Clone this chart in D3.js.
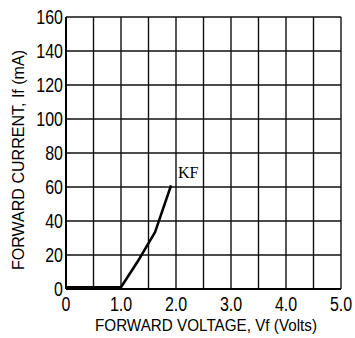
<!DOCTYPE html>
<html>
<head>
<meta charset="utf-8">
<script src="https://cdn.jsdelivr.net/npm/d3@7"></script>
<style>
body { margin: 0; background: #fff; }
.tick-lbl { font-family: "Liberation Sans", Arial, sans-serif; font-size: 19.5px; fill: #000; }
.title { font-family: "Liberation Sans", Arial, sans-serif; font-size: 17px; fill: #000; }
</style>
</head>
<body>
<div class="container"></div>
<script>
const W = 355, H = 338;
const LEFT = 66, RIGHT = 341, TOP = 17, BOTTOM = 289;
const NARROW = 0.82;

// curve KF
const voltage = [0, 1.0, 1.3, 1.62, 1.91];
const current = [1, 1, 16, 33.5, 61];
const xTicks = [0, 1, 2, 3, 4, 5];
const xTickLabels = ["0", "1.0", "2.0", "3.0", "4.0", "5.0"];
const yTicks = [0, 20, 40, 60, 80, 100, 120, 140, 160];
const xGrid = [0, 0.5, 1, 1.5, 2, 2.5, 3, 3.5, 4, 4.5, 5];

var svg = d3.select(".container").append("svg")
    .attr("width", W)
    .attr("height", H);

var x = d3.scaleLinear().domain([0, 5]).range([LEFT, RIGHT]);
var y = d3.scaleLinear().domain([0, 160]).range([BOTTOM, TOP]);

var g = svg.append("g");

g.selectAll(".vg").data(xGrid).enter().append("line")
    .attr("x1", d => x(d)).attr("x2", d => x(d))
    .attr("y1", TOP).attr("y2", BOTTOM)
    .attr("stroke", "#111").attr("stroke-width", 1.4);

g.selectAll(".hg").data(yTicks).enter().append("line")
    .attr("x1", LEFT).attr("x2", RIGHT)
    .attr("y1", d => y(d)).attr("y2", d => y(d))
    .attr("stroke", "#111").attr("stroke-width", 1.4);

// axes a bit heavier
g.append("line").attr("x1", LEFT).attr("x2", RIGHT).attr("y1", BOTTOM).attr("y2", BOTTOM)
    .attr("stroke", "#000").attr("stroke-width", 2.2);
g.append("line").attr("x1", LEFT).attr("x2", LEFT).attr("y1", TOP).attr("y2", BOTTOM)
    .attr("stroke", "#000").attr("stroke-width", 2);

// tick labels (narrow, like the plotter font)
g.selectAll(".yl").data(yTicks).enter().append("text")
    .attr("class", "tick-lbl")
    .attr("transform", d => "translate(" + (LEFT - 3) + "," + (y(d) + 7) + ") scale(" + NARROW + ",1)")
    .attr("text-anchor", "end")
    .text(d => d);

g.selectAll(".xl").data(xTicks).enter().append("text")
    .attr("class", "tick-lbl")
    .attr("transform", d => "translate(" + x(d) + "," + (BOTTOM + 22) + ") scale(" + NARROW + ",1)")
    .attr("text-anchor", "middle")
    .text((d, i) => xTickLabels[i]);

// titles
svg.append("text").attr("class", "title")
    .attr("x", 95).attr("y", 331)
    .attr("textLength", 222)
    .attr("lengthAdjust", "spacingAndGlyphs")
    .text("FORWARD VOLTAGE, Vf (Volts)");

svg.append("text").attr("class", "title")
    .attr("transform", "translate(24,270) rotate(-90)")
    .attr("textLength", 220)
    .attr("lengthAdjust", "spacingAndGlyphs")
    .text("FORWARD CURRENT, If (mA)");

// curve
var line = d3.line().x(d => x(d[0])).y(d => y(d[1]));
g.append("path")
    .datum(d3.zip(voltage, current))
    .attr("d", line)
    .attr("fill", "none")
    .attr("stroke", "#000")
    .attr("stroke-width", 2.6);

g.append("text")
    .attr("x", x(voltage[voltage.length - 1]) + 7)
    .attr("y", y(current[current.length - 1]) - 7)
    .attr("font-family", "Liberation Serif, serif")
    .attr("font-size", 16)
    .text("KF");
</script>
</body>
</html>
